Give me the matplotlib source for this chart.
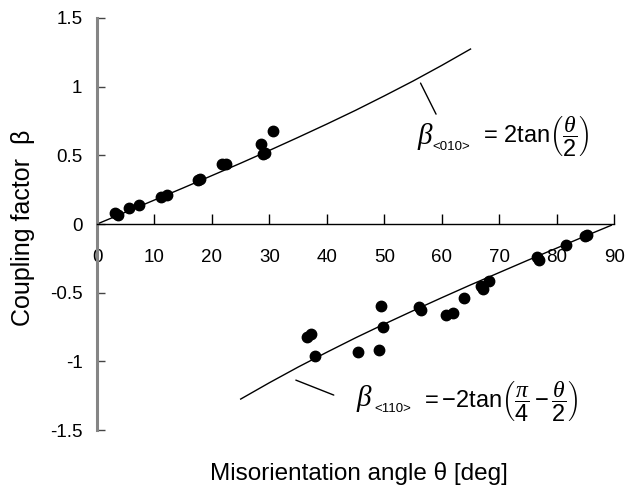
import matplotlib
matplotlib.use("Agg")
import matplotlib.pyplot as plt

plt.rcParams["font.family"] = ["Liberation Sans", "DejaVu Sans"]
plt.rcParams["mathtext.fontset"] = "custom"
plt.rcParams["mathtext.rm"] = "Liberation Sans"
plt.rcParams["mathtext.it"] = "Liberation Serif:italic"
plt.rcParams["mathtext.bf"] = "Liberation Sans:bold"

# measured points, <010> tilt boundaries
theta_010 = [3.1, 3.7, 5.6, 7.3, 11.1, 12.1, 17.6, 17.9, 21.7, 22.4, 28.5, 28.8, 29.3, 30.6]
beta_010 = [0.082, 0.066, 0.114, 0.136, 0.194, 0.213, 0.320, 0.330, 0.437, 0.435, 0.580, 0.508, 0.515, 0.680]

# measured points, <110> tilt boundaries
theta_110 = [36.6, 37.3, 38.0, 45.4, 49.1, 49.4, 49.7, 56.0, 56.3, 60.8, 62.0, 63.9,
             66.8, 67.1, 68.2, 76.6, 76.9, 81.6, 84.9, 85.2]
beta_110 = [-0.825, -0.803, -0.961, -0.930, -0.916, -0.595, -0.750, -0.607, -0.629, -0.663,
            -0.650, -0.541, -0.449, -0.473, -0.417, -0.243, -0.260, -0.153, -0.087, -0.078]

# model curves (values tabulated every 5 deg)
curve_010_theta = [0, 5, 10, 15, 20, 25, 30, 35, 40, 45, 50, 55, 60, 65]
curve_010_beta = [0.0, 0.087, 0.175, 0.263, 0.353, 0.443, 0.536, 0.631, 0.728, 0.828,
                  0.933, 1.041, 1.155, 1.274]
curve_110_theta = [25, 30, 35, 40, 45, 50, 55, 60, 65, 70, 75, 80, 85, 89.5]
curve_110_beta = [-1.274, -1.155, -1.041, -0.933, -0.828, -0.728, -0.631, -0.536, -0.443,
                  -0.353, -0.263, -0.175, -0.087, -0.009]

xticks = [0, 10, 20, 30, 40, 50, 60, 70, 80, 90]
yticks = [-1.5, -1, -0.5, 0, 0.5, 1, 1.5]
ytick_labels = ["-1.5", "-1", "-0.5", "0", "0.5", "1", "1.5"]

fig = plt.figure(figsize=(6.28, 4.86), dpi=100)
ax = fig.add_axes([0.1545, 0.115, 0.978 - 0.1545, 0.963 - 0.115])

ax.plot(curve_010_theta, curve_010_beta, color="black", lw=1.0)
ax.plot(curve_110_theta, curve_110_beta, color="black", lw=1.0)
ax.plot(theta_010, beta_010, "o", color="black", ms=7.5)
ax.plot(theta_110, beta_110, "o", color="black", ms=7.5)

ax.set_xlim(0, 90)
ax.set_ylim(-1.5, 1.5)

ax.spines["top"].set_visible(False)
ax.spines["right"].set_visible(False)
ax.spines["bottom"].set_position(("data", 0))
ax.spines["bottom"].set_linewidth(1.0)
ax.spines["left"].set_color("#858585")
ax.spines["left"].set_linewidth(2.2)

ax.set_xticks(xticks)
ax.set_xticklabels([str(t) for t in xticks])
ax.set_yticks(yticks)
ax.set_yticklabels(ytick_labels)
ax.tick_params(axis="x", direction="in", length=7, width=1, pad=18, labelsize=13.5)
ax.tick_params(axis="y", direction="in", length=6, width=1, color="#444444", pad=10.5, labelsize=13.5)

ax.set_ylabel("Coupling factor  β", fontsize=18)
ax.yaxis.set_label_coords(-0.12, 0.49)
ax.set_xlabel("Misorientation angle θ [deg]", fontsize=17.5)
ax.xaxis.set_label_coords(0.506, -0.078)

# formula labels with leader lines
lead = dict(arrowstyle="-", color="black", lw=1.0, shrinkA=0, shrinkB=0)

ax.annotate("", xy=(56.3, 1.026), xytext=(59.0, 0.80), arrowprops=lead)
ax.text(55.6, 0.637, r"$\beta$", fontsize=21, va="center", ha="left")
ax.text(58.4, 0.561, "<010>", fontsize=9.5, va="center", ha="left")
ax.text(66.6, 0.634, r"$=\,2\mathrm{tan}\left(\dfrac{\theta}{2}\right)$",
        fontsize=17, va="center", ha="left")

ax.annotate("", xy=(34.6, -1.136), xytext=(41.2, -1.245), arrowprops=lead)
ax.text(45.0, -1.271, r"$\beta$", fontsize=21, va="center", ha="left")
ax.text(48.2, -1.347, "<110>", fontsize=9.5, va="center", ha="left")
ax.text(56.4, -1.296, r"$= -2\mathrm{tan}\left(\dfrac{\pi}{4} - \dfrac{\theta}{2}\right)$",
        fontsize=17, va="center", ha="left")

fig.savefig("out.png", dpi=100)
